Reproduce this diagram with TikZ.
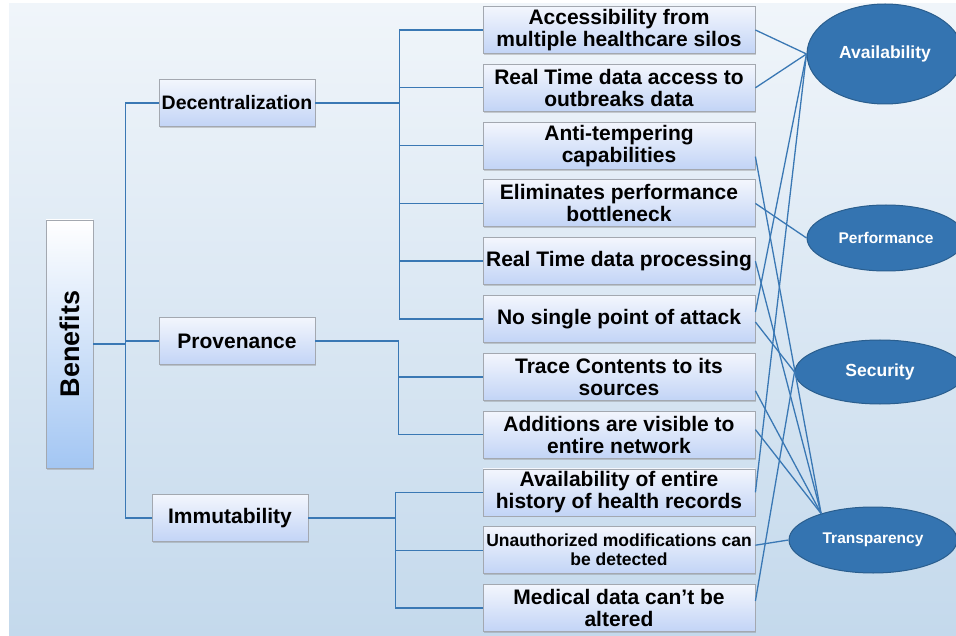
\documentclass[tikz,border=0pt]{standalone}
\usepackage{fontspec}
\setmainfont{Liberation Sans}
\usetikzlibrary{positioning,shapes.geometric,shadows}

\definecolor{linkblue}{HTML}{3A78B4}
\definecolor{ovalblue}{HTML}{3474B1}
\definecolor{ovalrim}{HTML}{2A5E8E}
\definecolor{boxtop}{HTML}{F3F6FD}
\definecolor{boxbot}{HTML}{C2D4F6}
\definecolor{rootbot}{HTML}{A3C6F3}
\definecolor{boxrim}{HTML}{A3A8B0}
\definecolor{bgtop}{HTML}{F0F5FA}
\definecolor{bgmid}{HTML}{A9C8E3}
\definecolor{bgbot}{HTML}{C4D9EC}

\begin{document}
\begin{tikzpicture}[
    x=1pt, y=-1pt,
    node distance=10pt,
    box/.style={draw=boxrim, line width=0.8pt, top color=boxtop, bottom color=boxbot,
        drop shadow={shadow xshift=1pt, shadow yshift=-1.5pt, opacity=0.35},
        align=center, inner sep=1.5pt},
    leafbox/.style={box, minimum width=272pt, minimum height=47pt, font=\bfseries\fontsize{21}{22}\selectfont},
    midbox/.style={box, minimum width=156pt, minimum height=47pt, font=\bfseries\fontsize{21}{22}\selectfont},
    rootbox/.style={box, top color=white, bottom color=rootbot, minimum width=248pt, minimum height=47pt,
        rotate=90, font=\bfseries\fontsize{27}{30}\selectfont},
    oval/.style={ellipse, draw=ovalrim, line width=1pt, fill=ovalblue, text=white, inner sep=0pt,
        font=\bfseries\fontsize{17.5}{20}\selectfont},
    smalloval/.style={oval, font=\bfseries\fontsize{15.5}{18}\selectfont},
    tree/.style={draw=linkblue, line width=1.4pt},
    link/.style={draw=linkblue, line width=1.3pt}
]
\useasboundingbox (0,0) rectangle (956,636);
\clip (0,0) rectangle (956,636);
\fill[white] (0,0) rectangle (956,636);
\shade[top color=bgtop, middle color=bgmid, bottom color=bgbot] (9,4) rectangle (956,636);

% root and branches
\node[rootbox] (ben) at (69.5,344) {Benefits};
\node[midbox, font=\bfseries\fontsize{19.5}{22}\selectfont] (dec) at (237,103) {Decentralization};
\node[midbox] (prov) at (237,341) {Provenance};
\node[midbox] (imm) at (230,518) {Immutability};

% leaves
\node[leafbox] (acc) at (619,30) {Accessibility from\\multiple healthcare silos};
\node[leafbox, below=of acc] (rtacc) {Real Time data access to\\outbreaks data};
\node[leafbox, below=of rtacc] (anti) {Anti-tempering\\capabilities};
\node[leafbox, below=of anti] (elim) {Eliminates performance\\bottleneck};
\node[leafbox, below=of elim] (rtproc) {Real Time data processing};
\node[leafbox, below=of rtproc] (nosingle) {No single point of attack};
\node[leafbox, below=of nosingle] (trace) {Trace Contents to its\\sources};
\node[leafbox, below=of trace] (add) {Additions are visible to\\entire network};
\node[leafbox, below=of add] (hist) {Availability of entire\\history of health records};
\node[leafbox, below=of hist, font=\bfseries\fontsize{17.5}{19}\selectfont] (unauth) {Unauthorized modifications can\\be detected};
\node[leafbox, below=of unauth] (med) {Medical data can’t be\\altered};

% properties
\node[oval, minimum width=156pt, minimum height=100pt] (avail) at (885,54) {Availability};
\node[smalloval, minimum width=158pt, minimum height=66pt] (perf) at (886,238) {Performance};
\node[oval, minimum width=170pt, minimum height=64pt] (secu) at (880,372) {Security};
\node[smalloval, minimum width=168pt, minimum height=66pt] (transp) at (873,540) {Transparency};

\draw[tree] (ben.south) -- ++(32,0) |- (dec.west);
\draw[tree] (ben.south) -- ++(32,0) |- (prov.west);
\draw[tree] (ben.south) -- ++(32,0) |- (imm.west);
\foreach \leaf in {acc,rtacc,anti,elim,rtproc,nosingle}
    \draw[tree] (dec.east) -- ++(84,0) |- (\leaf.west);
\foreach \leaf in {trace,add}
    \draw[tree] (prov.east) -- ++(83,0) |- (\leaf.west);
\foreach \leaf in {hist,unauth,med}
    \draw[tree] (imm.east) -- ++(87,0) |- (\leaf.west);

\draw[link] (acc.east) -- (avail.west);
\draw[link] (rtacc.east) -- (avail.west);
\draw[link] ([yshift=7pt]nosingle.east) -- (avail.west);
\draw[link] (hist.east) -- (avail.west);
\draw[link] (elim.east) -- (perf.west);
\draw[link] ([yshift=-3pt]nosingle.east) -- (secu.west);
\draw[link] ([yshift=7pt]med.east) -- (secu.west);
\draw[link] ([yshift=-11pt]anti.east) -- (transp.153);
\draw[link] (rtproc.east) -- (transp.153);
\draw[link] ([yshift=-14pt]trace.east) -- (transp.153);
\draw[link] ([yshift=5pt]add.east) -- (transp.153);
\draw[link] ([yshift=5pt]unauth.east) -- (transp.west);
\end{tikzpicture}
\end{document}
